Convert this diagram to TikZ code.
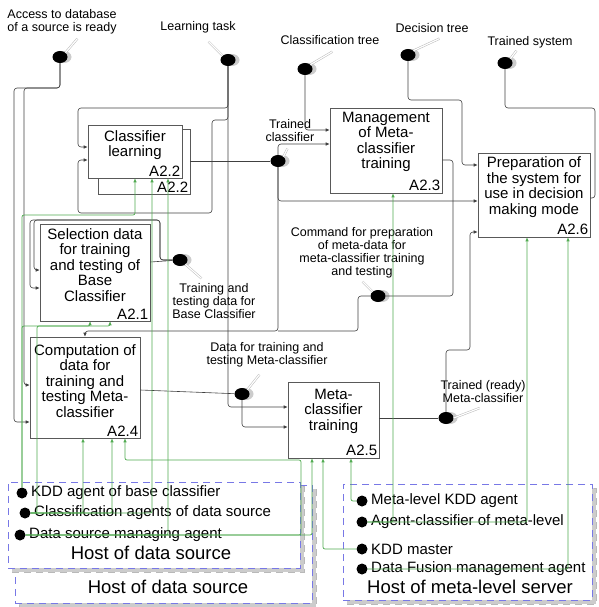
\documentclass[tikz,border=0pt]{standalone}
\usepackage{fontspec}
\setmainfont{Liberation Sans}
\usetikzlibrary{arrows.meta,shapes.geometric,shadows}
\definecolor{mgreen}{RGB}{80,170,80}
\definecolor{hostblue}{RGB}{120,120,230}

\begin{document}
\begin{tikzpicture}[x=1pt, y=-1pt,
    proc/.style={draw=black!65, line width=0.6pt, fill=white, inner sep=0pt},
    num/.style={anchor=south east, inner sep=2pt, font=\fontsize{15}{15}\selectfont},
    ptext/.style={align=center, inner sep=0pt, font=\fontsize{15}{15.5}\selectfont},
    sig/.style={ellipse, fill=black, minimum width=15pt, minimum height=12pt, inner sep=0pt,
        copy shadow={shadow xshift=4pt, shadow yshift=0pt, fill=gray!40, draw=none}},
    siglab/.style={align=center, inner sep=0pt, font=\fontsize{12.5}{13}\selectfont},
    ptr/.style={draw=gray!55, double, double distance=1.2pt, line width=0.5pt},
    conn/.style={draw=black!75, line width=0.6pt, rounded corners=3pt},
    mech/.style={draw=mgreen, line width=0.7pt, rounded corners=2pt},
    arrin/.style={-{Latex[length=4pt,width=3.5pt]}},
    host/.style={draw=hostblue, line width=0.8pt, dash pattern=on 7pt off 5pt, fill=white,
        copy shadow={shadow xshift=4pt, shadow yshift=-4pt, fill=gray!40, draw=gray!55}},
    agent/.style={anchor=west, inner sep=0pt, font=\fontsize{15}{15}\selectfont},
    agdot/.style={circle, fill=black, minimum size=11pt, inner sep=0pt},
    hostlab/.style={inner sep=0pt, font=\fontsize{18.5}{18.5}\selectfont}]
    \useasboundingbox (0,0) rectangle (598,607);

    % hosts
    \node[host, minimum width=297pt, minimum height=118pt] (hds2) at (163.5,544) {};
    \node[host, minimum width=292pt, minimum height=86pt] (hds) at (154,525) {};
    \node[host, minimum width=249pt, minimum height=116pt] (hml) at (467.5,542) {};
    \node[hostlab] (hds-l) at (151,553) {Host of data source};
    \node[hostlab] (hds2-l) at (168,587) {Host of data source};
    \node[hostlab] (hml-l) at (470,587) {Host of meta-level server};

    \node[agent] (kb-t) at (31,493) {KDD agent of base classifier};
    \node[agent] (ca-t) at (34,513) {Classification agents of data source};
    \node[agent] (dm-t) at (29,535) {Data source managing agent};
    \node[agent] (mk-t) at (371,501) {Meta-level KDD agent};
    \node[agent] (ac-t) at (371,522) {Agent-classifier of meta-level};
    \node[agent] (km-t) at (371,549) {KDD master};
    \node[agent] (df-t) at (371,569) {Data Fusion management agent};

    % activities
    \node[proc, minimum width=92pt, minimum height=65pt, label={[num]south east:A2.2}] (cl2) at (144,162) {};
    \node[proc, minimum width=94pt, minimum height=53pt, label={[num]south east:A2.2}] (cl) at (135,151.5) {};
    \node[ptext] (cl-t) at (135,145) {Classifier\\learning};
    \node[proc, minimum width=110pt, minimum height=97pt, label={[num]south east:A2.1}] (sel) at (95,272.5) {};
    \node[ptext] (sel-t) at (95,265) {Selection data\\for training\\and testing of\\Base\\Classifier};
    \node[proc, minimum width=110pt, minimum height=101pt, label={[num]south east:A2.4}] (comp) at (85,387.5) {};
    \node[ptext] (comp-t) at (85,381) {Computation of\\data for\\training and\\testing Meta-\\classifier};
    \node[proc, minimum width=112pt, minimum height=85pt, label={[num]south east:A2.3}] (mgmt) at (386,150.5) {};
    \node[ptext] (mgmt-t) at (386,142) {Management\\of Meta-\\classifier\\training};
    \node[proc, minimum width=112pt, minimum height=84pt, label={[num]south east:A2.6}] (prep) at (534,195) {};
    \node[ptext] (prep-t) at (534,187) {Preparation of\\the system for\\use in decision\\making mode};
    \node[proc, minimum width=91pt, minimum height=76pt, label={[num]south east:A2.5}] (meta) at (333.5,420) {};
    \node[ptext] (meta-t) at (333.5,411) {Meta-\\classifier\\training};

    % tunnels
    \node[sig] (sAcc) at (60,57) {};
    \node[siglab] (sAcc-l) at (62,22) {Access to database\\of a source is ready};
    \node[sig] (sTask) at (228,60) {};
    \node[siglab] (sTask-l) at (198,27) {Learning task};
    \node[sig] (sTree) at (305,69) {};
    \node[siglab] (sTree-l) at (330,40) {Classification tree};
    \node[sig] (sDec) at (408,55) {};
    \node[siglab] (sDec-l) at (432,28) {Decision tree};
    \node[sig] (sSys) at (505,63) {};
    \node[siglab] (sSys-l) at (530,42) {Trained system};
    \node[sig] (sTrcl) at (278,161) {};
    \node[siglab] (sTrcl-l) at (290,131) {Trained\\classifier};
    \node[sig] (sBase) at (180,260) {};
    \node[siglab] (sBase-l) at (214,301) {Training and\\testing data for\\Base Classifier};
    \node[sig] (sCmd) at (378,296) {};
    \node[siglab] (sCmd-l) at (362,253) {Command for preparation\\of meta-data for\\meta-classifier training\\and testing};
    \node[sig] (sData) at (242,394) {};
    \node[siglab] (sData-l) at (267,355) {Data for training and\\testing Meta-classifier};
    \node[sig] (sMeta) at (446,418) {};
    \node[siglab] (sMeta-l) at (483,392) {Trained (ready)\\Meta-classifier};

    \draw[ptr] (sAcc.north east) -- ++(12,-14);
    \draw[ptr] (sTask.north west) -- ++(-14,-14);
    \draw[ptr] (sTree.north east) -- ++(22,-13);
    \draw[ptr] (sDec.north east) -- ++(26,-12);
    \draw[ptr] (sSys.north east) -- ++(6,-8);
    \draw[ptr] (sTrcl.north east) -- ++(4,-8);
    \draw[ptr] (sBase.south east) -- ++(16,14);
    \draw[ptr] (sCmd.north west) -- ++(-10,-10);
    \draw[ptr] (sData.north east) -- ++(12,-15);
    \draw[ptr] (sMeta.east) -- ++(26,-10);

    % controls and data
    \draw[conn, arrin] (sAcc) -- (60,88) -- (14,88) -- (14,422) -- (comp.west |- 0,422);
    \draw[conn, arrin] (sAcc) -- (60,88) -- (24,88) -- (24,385) -- (comp.west |- 0,385);
    \draw[conn, arrin] (sTask) -- (228,108) -- (78,108) -- (78,147) -- (cl.west |- 0,147);
    \draw[conn, arrin] (sTask) -- (228,120) -- (212,120) -- (212,213) -- (78,213) -- (78,160) -- (cl.west |- 0,160);
    \draw[conn, arrin] (sTask) -- (228,407) -- (meta.west |- 0,407);
    \draw[conn] (sel.east |- 0,262) -- (sBase);
    \draw[conn, arrin] (sBase) -- (160,260) -- (160,220) -- (34,220) -- (34,270) -- (sel.west |- 0,270);
    \draw[conn, arrin] (sBase) -- (160,260) -- (160,220) -- (30,220) -- (30,288) -- (sel.west |- 0,288);
    \draw[conn] (cl2.east |- 0,161) -- (sTrcl);
    \draw[conn, arrin] (sTrcl) -- (278,144) -- (mgmt.west |- 0,144);
    \draw[conn, arrin] (sTree) -- (305,130) -- (mgmt.west |- 0,130);
    \draw[conn, arrin] (sTrcl) -- (278,201) -- (prep.west |- 0,201);
    \coordinate (jn) at (278,331);
    \draw[conn, arrin] (sTrcl) -- (jn) -- (85,331) -- (comp.north -| 85,0);
    \draw[conn] (mgmt.east |- 0,160) -- (453,160) -- (453,296) -- (sCmd);
    \draw[conn] (sCmd) -- (358,296) -- (358,331) -- (jn);
    \draw[conn, arrin] (sDec) -- (408,100) -- (462,100) -- (462,165) -- (prep.west |- 0,165);
    \draw[conn] (prep.east |- 0,198) -- (595,198) -- (595,108) -- (505,108) -- (sSys);
    \draw[conn] (meta.east |- 0,418) -- (sMeta);
    \draw[conn, arrin] (sMeta) -- (446,350) -- (470,350) -- (470,232) -- (prep.west |- 0,232);
    \draw[conn] (comp.east |- 0,390) -- (sData);
    \draw[conn, arrin] (sData) -- (242,427) -- (meta.west |- 0,427);

    % mechanisms
    \node[agdot] (kb) at (22,493) {};
    \node[agdot] (ca) at (25,513) {};
    \node[agdot] (dm) at (20,535) {};
    \node[agdot] (mk) at (362,501) {};
    \node[agdot] (ac) at (362,522) {};
    \node[agdot] (km) at (362,549) {};
    \node[agdot] (df) at (362,569) {};
    \draw[mech, arrin] (kb) -- (22,215) -- (135,215) -- (cl.south -| 135,0);
    \draw[mech, arrin] (kb) -- (22,326) -- (90,326) -- (sel.south -| 90,0);
    \draw[mech, arrin] (ca) -- (37,513) -- (37,326) -- (110,326) -- (sel.south -| 110,0);
    \draw[mech, arrin] (ca) -- (152,513) -- (cl.south -| 152,0);
    \draw[mech, arrin] (ca) -- (112,513) -- (comp.south -| 112,0);
    \draw[mech, arrin] (ca) -- (83,513) -- (comp.south -| 83,0);
    \draw[mech, arrin] (dm) -- (168,535) -- (cl.south -| 168,0);
    \draw[mech, arrin] (dm) -- (301,535) -- (301,460) -- (125,460) -- (comp.south -| 125,0);
    \draw[mech, arrin] (dm) -- (312,535) -- (meta.south -| 312,0);
    \draw[mech, arrin] (km) -- (323,549) -- (meta.south -| 323,0);
    \draw[mech, arrin] (mk) -- (351,501) -- (meta.south -| 351,0);
    \draw[mech, arrin] (ac) -- (393,522) -- (mgmt.south -| 393,0);
    \draw[mech, arrin] (ac) -- (527,522) -- (prep.south -| 527,0);
    \draw[mech, arrin] (df) -- (568,569) -- (prep.south -| 568,0);
\end{tikzpicture}
\end{document}
